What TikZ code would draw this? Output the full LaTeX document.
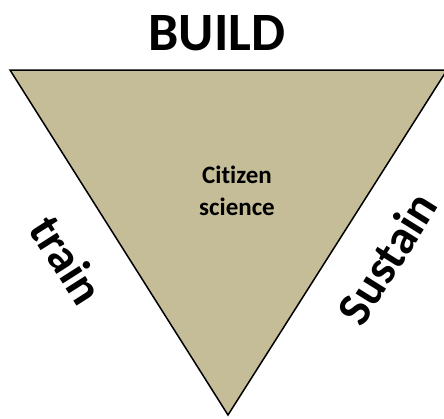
\documentclass[tikz,border=0pt]{standalone}
\usepackage{fontspec}
\setmainfont{Carlito}[Ligatures=NoCommon]
\definecolor{tanfill}{HTML}{C4BD97}
\begin{document}
\begin{tikzpicture}[x=1pt,y=-1pt,
  big/.style={font=\bfseries\fontsize{54}{64}\selectfont, inner sep=0pt},
  side/.style={font=\bfseries\fontsize{48}{58}\selectfont, inner sep=0pt},
  small/.style={font=\bfseries\fontsize{25}{32}\selectfont, align=center, inner sep=0pt}]
\useasboundingbox (0,0) rectangle (444,418);
\coordinate (tl) at (10,70);
\coordinate (tr) at (447,70);
\coordinate (bt) at (228,415);
\fill[tanfill] (tl) -- (tr) -- (bt) -- cycle;
\draw[line width=1.5pt, line join=miter] (tl) -- (tr) -- (bt) -- cycle;
\node[big, anchor=base] (build) at (217,50) {BUILD};
\node[small] (cs) at (237,191) {Citizen\\science};
\node[side, rotate=-57.5] (train) at (67,260) {train};
\node[side, rotate=58] (sustain) at (387,258) {Sustain};
\end{tikzpicture}
\end{document}
